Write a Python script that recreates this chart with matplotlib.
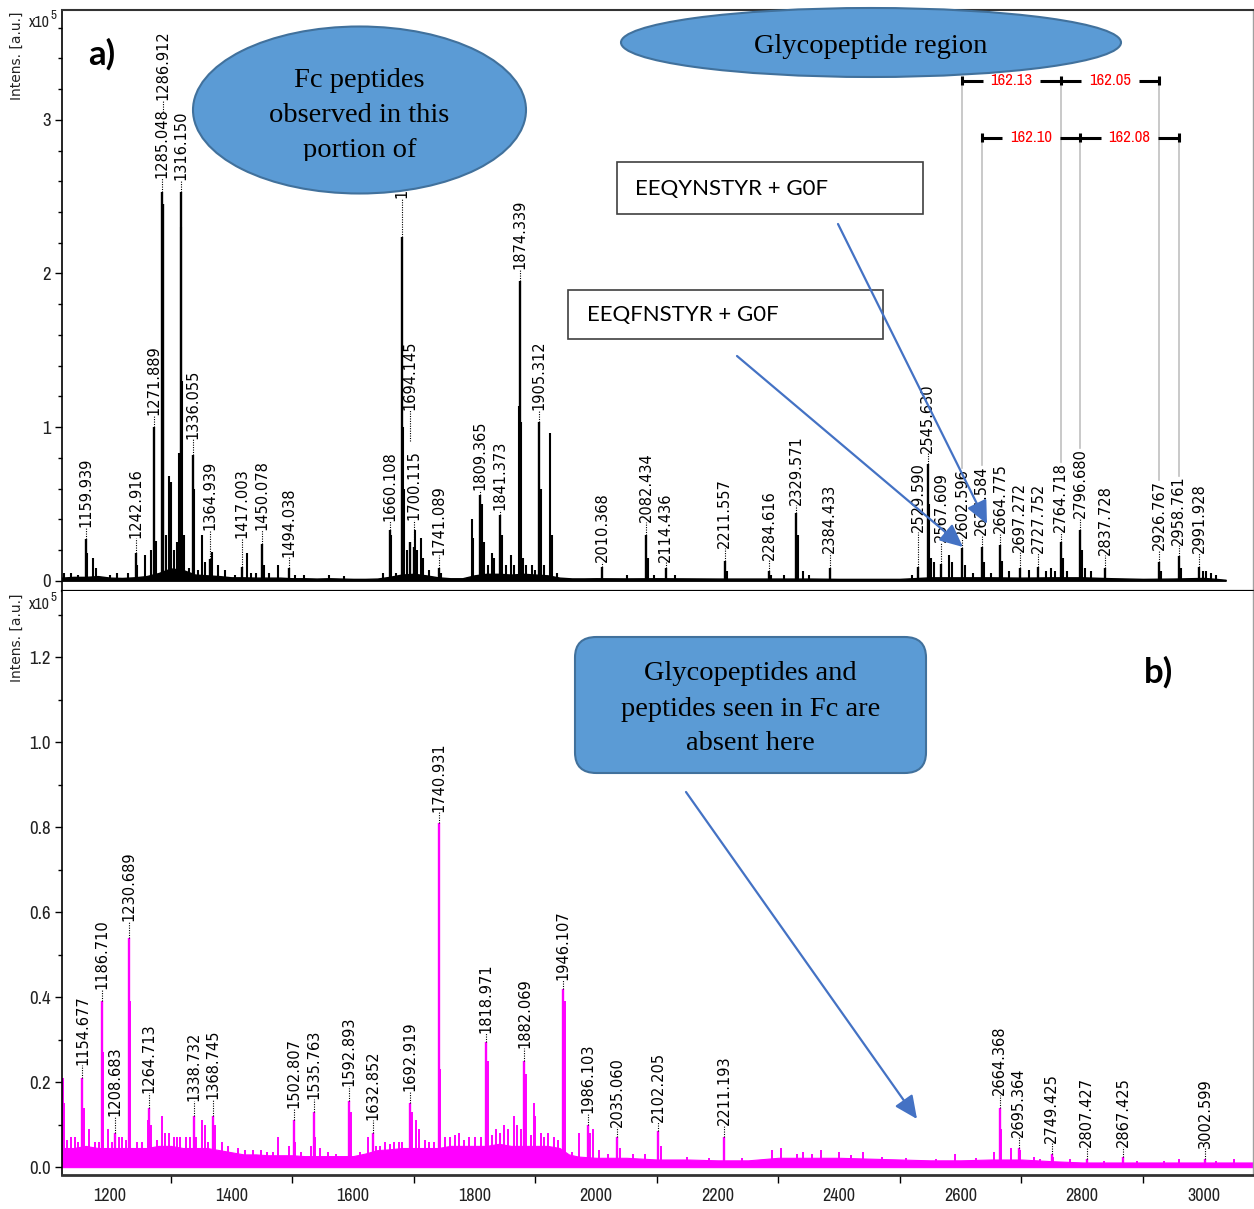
import matplotlib
matplotlib.use("Agg")
import matplotlib.pyplot as plt
from matplotlib.patches import Ellipse, FancyBboxPatch, Rectangle, FancyArrowPatch
from matplotlib.transforms import Bbox, TransformedBbox
from matplotlib.ticker import FixedLocator, MultipleLocator, FormatStrFormatter

# ---------------- data ----------------
lab_a_mz = [1159.939, 1242.916, 1271.889, 1285.048, 1286.912, 1316.150, 1336.055, 1364.939, 1417.003, 1450.078,
            1494.038, 1660.108, 1680.711, 1694.145, 1700.115, 1741.089, 1809.365, 1841.373, 1874.339, 1905.312,
            2010.368, 2082.434, 2114.436, 2211.557, 2284.616, 2329.571, 2384.433, 2529.590, 2545.630, 2567.609,
            2602.596, 2634.584, 2664.775, 2697.272, 2727.752, 2764.718, 2796.680, 2837.728, 2926.767, 2958.761,
            2991.928]
lab_a_int = [0.27, 0.18, 1.00, 2.53, 2.45, 2.53, 0.82, 0.14, 0.09, 0.24,
             0.08, 0.33, 2.24, 0.25, 0.22, 0.08, 0.56, 0.43, 1.95, 1.03,
             0.09, 0.30, 0.08, 0.13, 0.06, 0.44, 0.08, 0.09, 0.76, 0.11,
             0.21, 0.22, 0.23, 0.08, 0.09, 0.25, 0.33, 0.08, 0.12, 0.16,
             0.09]
minor_a_mz = [1125, 1135, 1148, 1162, 1172, 1177, 1200, 1212, 1230, 1245,
              1258, 1268, 1275, 1288, 1292, 1297, 1301, 1305, 1310, 1313,
              1317.5, 1319, 1321, 1330, 1338, 1345, 1352, 1356, 1368, 1378,
              1390, 1405, 1425, 1432, 1440, 1454, 1462, 1477, 1505, 1520,
              1560, 1585, 1650, 1662, 1670, 1682, 1684, 1689, 1702, 1706,
              1711, 1715, 1725, 1745, 1795.5, 1798, 1812, 1815, 1822, 1828,
              1832, 1845, 1851, 1860, 1865, 1873.5, 1876, 1880, 1885, 1894,
              1899, 1910, 1915, 1924, 1927, 1935, 2050, 2086, 2095, 2130,
              2216, 2288, 2310, 2333, 2340, 2350, 2520, 2548, 2551, 2556,
              2580, 2585, 2607, 2620, 2638, 2650, 2668, 2680, 2712, 2740,
              2748, 2755, 2768, 2775, 2800, 2805, 2815, 2930, 2962, 2998,
              3004, 3012, 3020]
minor_a_int = [0.05, 0.05, 0.04, 0.18, 0.15, 0.08, 0.04, 0.05, 0.05, 0.10,
               0.17, 0.20, 0.26, 1.37, 0.30, 0.68, 0.64, 0.20, 0.25, 0.83,
               2.30, 1.30, 0.30, 0.08, 0.60, 0.07, 0.30, 0.12, 0.19, 0.10,
               0.07, 0.04, 0.18, 0.05, 0.05, 0.10, 0.05, 0.10, 0.04, 0.04,
               0.04, 0.03, 0.05, 0.30, 0.05, 1.00, 0.60, 0.20, 0.33, 0.20,
               0.28, 0.15, 0.07, 0.05, 0.40, 0.28, 0.50, 0.25, 0.10, 0.18,
               0.15, 0.30, 0.10, 0.17, 0.10, 1.14, 1.03, 0.15, 0.10, 0.10,
               0.07, 0.60, 0.10, 0.96, 0.30, 0.05, 0.035, 0.15, 0.04, 0.04,
               0.06, 0.04, 0.035, 0.30, 0.06, 0.04, 0.04, 0.50, 0.15, 0.12,
               0.17, 0.12, 0.10, 0.05, 0.12, 0.05, 0.13, 0.06, 0.07, 0.06,
               0.08, 0.06, 0.15, 0.06, 0.20, 0.08, 0.06, 0.06, 0.08, 0.06,
               0.06, 0.05, 0.04]
noise_a_mz = [1121, 1140, 1160, 1180, 1200, 1220, 1240, 1260, 1280, 1300,
              1320, 1340, 1360, 1380, 1400, 1420, 1440, 1460, 1480, 1500,
              1520, 1540, 1560, 1580, 1600, 1620, 1640, 1660, 1680, 1700,
              1720, 1740, 1760, 1780, 1800, 1820, 1840, 1860, 1880, 1900,
              1920, 1940, 1960, 1980, 2000, 2050, 2100, 2150, 2200, 2250,
              2300, 2350, 2400, 2450, 2500, 2550, 2600, 2650, 2700, 2750,
              2800, 2850, 2900, 2950, 3000, 3020, 3036]
noise_a_top = [0.020, 0.025, 0.025, 0.030, 0.020, 0.018, 0.022, 0.030, 0.050, 0.080,
               0.070, 0.040, 0.035, 0.030, 0.022, 0.022, 0.020, 0.020, 0.020, 0.016,
               0.016, 0.014, 0.016, 0.014, 0.012, 0.012, 0.014, 0.025, 0.040, 0.045,
               0.035, 0.022, 0.016, 0.016, 0.035, 0.045, 0.045, 0.040, 0.045, 0.040,
               0.035, 0.020, 0.015, 0.015, 0.016, 0.015, 0.016, 0.015, 0.014, 0.014,
               0.014, 0.014, 0.012, 0.012, 0.012, 0.022, 0.022, 0.022, 0.020, 0.022,
               0.022, 0.016, 0.012, 0.014, 0.018, 0.012, 0.006]

lab_b_mz = [1154.677, 1186.710, 1208.683, 1230.689, 1264.713, 1338.732, 1368.745, 1502.807, 1535.763, 1592.893,
            1632.852, 1692.919, 1740.931, 1818.971, 1882.069, 1946.107, 1986.103, 2035.060, 2102.205, 2211.193,
            2664.368, 2695.364, 2749.425, 2807.427, 2867.425, 3002.599]
lab_b_int = [0.21, 0.39, 0.08, 0.54, 0.14, 0.12, 0.12, 0.11, 0.13, 0.155,
             0.08, 0.15, 0.81, 0.295, 0.25, 0.42, 0.10, 0.07, 0.085, 0.072,
             0.14, 0.045, 0.03, 0.02, 0.025, 0.02]
minor_b_mz = [1122, 1124, 1135, 1142, 1158, 1166, 1176, 1189, 1196, 1214,
              1220, 1233, 1245, 1262, 1268, 1285, 1290, 1297, 1305, 1315,
              1325, 1342, 1352, 1356, 1372, 1385, 1395, 1435, 1477, 1495,
              1505, 1530, 1538, 1545, 1596, 1625, 1645, 1652, 1660, 1668,
              1680, 1697, 1703, 1709, 1725, 1743, 1760, 1775, 1790, 1800,
              1822, 1835, 1848, 1855, 1865, 1870, 1876, 1885, 1897, 1900,
              1910, 1920, 1930, 1949, 1972, 1990, 1995, 2005, 2040, 2060,
              2080, 2106, 2290, 2305, 2340, 2370, 2400, 2440, 2590, 2655,
              2667, 2682, 2698, 2720, 2752, 2780, 2960, 3050,
              1130, 1148, 1182, 1204, 1226, 1252, 1278, 1310, 1332, 1362,
              1410, 1422, 1448, 1458, 1468, 1515, 1558, 1572, 1612, 1638,
              1675, 1718, 1733, 1752, 1768, 1783, 1810, 1828, 1842, 1892,
              1915, 1938, 1960, 2020, 2150, 2185, 2240, 2330, 2355, 2420,
              2470, 2510, 2560, 2625, 2730, 2835, 2890, 2935, 3020]
minor_b_int = [0.21, 0.15, 0.07, 0.07, 0.14, 0.09, 0.06, 0.27, 0.09, 0.07,
               0.07, 0.39, 0.06, 0.11, 0.10, 0.12, 0.08, 0.08, 0.07, 0.07,
               0.07, 0.07, 0.11, 0.10, 0.10, 0.06, 0.05, 0.04, 0.07, 0.05,
               0.06, 0.05, 0.07, 0.045, 0.13, 0.07, 0.05, 0.06, 0.055, 0.06,
               0.06, 0.13, 0.11, 0.09, 0.06, 0.23, 0.07, 0.08, 0.07, 0.07,
               0.25, 0.09, 0.10, 0.09, 0.12, 0.10, 0.09, 0.22, 0.15, 0.12,
               0.08, 0.08, 0.07, 0.39, 0.08, 0.08, 0.09, 0.04, 0.045, 0.03,
               0.03, 0.05, 0.04, 0.045, 0.035, 0.04, 0.035, 0.035, 0.03, 0.035,
               0.09, 0.045, 0.04, 0.025, 0.025, 0.02, 0.02, 0.02,
               0.065, 0.06, 0.06, 0.06, 0.065, 0.06, 0.065, 0.07, 0.07, 0.06,
               0.045, 0.04, 0.04, 0.035, 0.035, 0.035, 0.035, 0.03, 0.035, 0.05,
               0.06, 0.065, 0.06, 0.07, 0.075, 0.065, 0.07, 0.075, 0.08, 0.075,
               0.07, 0.065, 0.035, 0.03, 0.025, 0.022, 0.022, 0.03, 0.03, 0.028,
               0.025, 0.022, 0.02, 0.022, 0.018, 0.015, 0.014, 0.014, 0.014]
noise_b_mz = [1121, 1140, 1160, 1180, 1200, 1220, 1240, 1260, 1280, 1300,
              1320, 1340, 1360, 1380, 1400, 1420, 1440, 1460, 1480, 1500,
              1520, 1540, 1560, 1580, 1600, 1620, 1640, 1660, 1680, 1700,
              1720, 1740, 1760, 1780, 1800, 1820, 1840, 1860, 1880, 1900,
              1920, 1940, 1955, 1970, 2000, 2050, 2100, 2150, 2200, 2250,
              2300, 2350, 2400, 2450, 2500, 2550, 2600, 2650, 2700, 2750,
              2800, 2850, 2900, 2950, 3000, 3040, 3081]
noise_b_top = [0.045, 0.045, 0.05, 0.045, 0.045, 0.045, 0.045, 0.045, 0.05, 0.05,
               0.045, 0.045, 0.045, 0.04, 0.035, 0.03, 0.03, 0.028, 0.028, 0.028,
               0.026, 0.026, 0.026, 0.026, 0.026, 0.032, 0.04, 0.042, 0.045, 0.045,
               0.045, 0.045, 0.05, 0.05, 0.05, 0.05, 0.055, 0.05, 0.05, 0.05,
               0.05, 0.045, 0.03, 0.025, 0.022, 0.022, 0.018, 0.018, 0.016, 0.016,
               0.022, 0.022, 0.022, 0.02, 0.018, 0.016, 0.016, 0.018, 0.018, 0.014,
               0.011, 0.011, 0.011, 0.011, 0.011, 0.011, 0.011]

glyco_row1 = [2602.596, 2764.718, 2926.767]
glyco_row1_txt = ["162.13", "162.05"]
glyco_row2 = [2634.584, 2796.680, 2958.761]
glyco_row2_txt = ["162.10", "162.08"]

x_ticks = [1200, 1400, 1600, 1800, 2000, 2200, 2400, 2600, 2800, 3000]

# ---------------- layout ----------------
W, H = 1254, 1209
def fx(px): return px / W
def fy(py): return 1 - py / H

NARROW = ['Archivo Narrow', 'Liberation Sans', 'DejaVu Sans']
plt.rcParams['font.family'] = NARROW
plt.rcParams['axes.linewidth'] = 1.2

fig = plt.figure(figsize=(W / 100, H / 100), dpi=100)
fig.patch.set_facecolor('white')

axA = fig.add_axes([fx(62), fy(591), fx(1253) - fx(62), fy(10) - fy(591)])
axB = fig.add_axes([fx(62), fy(1175), fx(1253) - fx(62), fy(591) - fy(1175)])

XL = (1121, 3081)
axA.set_xlim(*XL); axB.set_xlim(*XL)
axA.set_ylim(-0.067, 3.715)
axB.set_ylim(-0.0185, 1.356)

lab_a_ytext = [0.35, 0.28, 1.08, 2.62, 3.13, 2.61, 0.92, 0.33, 0.28, 0.33,
               0.155, 0.39, 2.49, 1.11, 0.395, 0.165, 0.59, 0.46, 2.03, 1.11,
               0.12, 0.38, 0.12, 0.21, 0.135, 0.49, 0.18, 0.32, 0.83, 0.25,
               0.28, 0.30, 0.31, 0.19, 0.18, 0.32, 0.41, 0.165, 0.20, 0.23,
               0.18]
leader_stop_a = {1286.912: 3.05, 1694.145: 0.91}
lab_b_ytext = [0.24, 0.42, 0.12, 0.58, 0.175, 0.155, 0.16, 0.14, 0.16, 0.19,
               0.11, 0.18, 0.835, 0.315, 0.28, 0.44, 0.128, 0.095, 0.107, 0.10,
               0.17, 0.07, 0.057, 0.047, 0.047, 0.045]

MAG = '#FF00FF'

# ---------------- spectra ----------------
axA.fill_between(noise_a_mz, 0, noise_a_top, color='black', lw=1.0, zorder=2)
axA.vlines(minor_a_mz, 0, minor_a_int, color='black', lw=1.5, zorder=2)
axA.vlines(lab_a_mz, 0, lab_a_int, color='black', lw=1.7, zorder=2)

axB.fill_between(noise_b_mz, 0, noise_b_top, color=MAG, lw=0.8, zorder=2)
axB.vlines(minor_b_mz, 0, minor_b_int, color=MAG, lw=1.4, zorder=2)
axB.vlines(lab_b_mz, 0, lab_b_int, color=MAG, lw=1.7, zorder=2)

# ---------------- peak labels ----------------
texts_a = {}
for mz, h, yt in zip(lab_a_mz, lab_a_int, lab_a_ytext):
    stop = leader_stop_a.get(mz, h)
    axA.vlines(mz, stop, yt, color='black', lw=0.8, linestyles=(0, (1, 1.2)), zorder=3)
    t = axA.text(mz, yt, f"{mz:.3f}", rotation=90, ha='center', va='bottom',
                 fontsize=10.5, family='DejaVu Sans', color='black', zorder=3)
    texts_a[mz] = t
for mz, h, yt in zip(lab_b_mz, lab_b_int, lab_b_ytext):
    axB.vlines(mz, h, yt, color='black', lw=0.8, linestyles=(0, (1, 1.2)), zorder=3)
    axB.text(mz, yt, f"{mz:.3f}", rotation=90, ha='center', va='bottom',
             fontsize=10.5, family='DejaVu Sans', color='black', zorder=3)

# ---------------- axes styling ----------------
for ax in (axA, axB):
    ax.spines['left'].set_color('black')
    ax.spines['right'].set_color('#A0A0A0')
    ax.spines['right'].set_linewidth(1.0)
    ax.tick_params(axis='y', which='major', direction='out', length=5, width=1, pad=3,
                   labelsize=13.5, labelcolor='#222222')
    ax.tick_params(axis='y', which='minor', direction='out', length=3, width=1)
axA.spines['top'].set_color('#333333'); axA.spines['top'].set_linewidth(1.5)
axA.spines['bottom'].set_color('black'); axA.spines['bottom'].set_linewidth(1.6)
axB.spines['top'].set_visible(False)
axB.spines['bottom'].set_color('#333333'); axB.spines['bottom'].set_linewidth(2.0)

axA.set_yticks([0, 1, 2, 3])
axA.yaxis.set_major_formatter(FormatStrFormatter('%d'))
axA.yaxis.set_minor_locator(MultipleLocator(0.2))
axA.tick_params(axis='x', which='both', bottom=False, labelbottom=False)

axB.set_yticks([0.0, 0.2, 0.4, 0.6, 0.8, 1.0, 1.2])
axB.yaxis.set_major_formatter(FormatStrFormatter('%.1f'))
axB.yaxis.set_minor_locator(MultipleLocator(0.1))
axB.set_xticks(x_ticks)
axB.xaxis.set_minor_locator(FixedLocator([t + 100 for t in x_ticks[:-1]]))
axB.tick_params(axis='x', which='major', length=0, pad=9.5, labelsize=13, labelcolor='#222222')
axB.tick_params(axis='x', which='minor', direction='out', length=6, width=1)

# ---------------- axis captions ----------------
for ytop, ybase in ((12, 27), (594, 609)):
    fig.text(fx(17), fy(ytop), 'Intens. [a.u.]', rotation=90, ha='center', va='top',
             fontsize=10, family='DejaVu Sans', color='#222222')
    fig.text(fx(29), fy(ybase), 'x10', ha='left', va='baseline', fontsize=11.5, color='#222222')
    fig.text(fx(50.5), fy(ybase - 8), '5', ha='left', va='baseline', fontsize=9.5, color='#222222')

fig.text(fx(88), fy(65), 'a)', fontsize=25, fontweight='bold', family='Lato', va='baseline')
fig.text(fx(1144), fy(683), 'b)', fontsize=25, fontweight='bold', family='Lato', va='baseline')

# ---------------- glycoform brackets ----------------
fig.canvas.draw()
rend = fig.canvas.get_renderer()

def bracket_row(mzs, labels, py):
    yv = (3.715 - (-0.067)) * (591 - py) / (591 - 10) - 0.067
    cap = 0.03
    seg = 34.0
    for m in mzs:
        axA.plot([m, m], [yv - cap, yv + cap], color='black', lw=2.2, clip_on=False, zorder=4,
                 solid_capstyle='butt')
        tb = texts_a[m].get_window_extent(rend)
        ytop = axA.transData.inverted().transform((tb.x0, tb.y1))[1]
        axA.plot([m, m], [ytop, yv], color='#C0C0C0', lw=1.2, clip_on=False, zorder=1)
    for (m1, m2), lab in zip(zip(mzs[:-1], mzs[1:]), labels):
        axA.plot([m1, m1 + seg], [yv, yv], color='black', lw=2.2, clip_on=False, zorder=4,
                 solid_capstyle='butt')
        axA.plot([m2 - seg, m2], [yv, yv], color='black', lw=2.2, clip_on=False, zorder=4,
                 solid_capstyle='butt')
        axA.text((m1 + m2) / 2, yv, lab, color='#FF0000', ha='center', va='center',
                 fontsize=12, zorder=4)

bracket_row(glyco_row1, glyco_row1_txt, 80.7)
bracket_row(glyco_row2, glyco_row2_txt, 137.5)

# ---------------- annotations ----------------
BLUE_FILL = '#5B9BD5'
BLUE_EDGE = '#41719C'
ARROW = '#4472C4'
SERIF = ['Liberation Serif', 'DejaVu Serif']

e1 = Ellipse((fx(359.5), fy(110)), fx(333), 167 / H, transform=fig.transFigure,
             facecolor=BLUE_FILL, edgecolor=BLUE_EDGE, lw=1.5, zorder=5)
fig.add_artist(e1)
clipbb = TransformedBbox(Bbox([[fx(193), fy(161)], [fx(526), fy(27)]]), fig.transFigure)
for txt, yb in (('Fc peptides', 87), ('observed in this', 122), ('portion of', 157)):
    t = fig.text(fx(359.5), fy(yb), txt, ha='center', va='baseline', fontsize=20.5,
                 family=SERIF, color='black', zorder=6)
    t.set_clip_box(clipbb)
    t.set_clip_on(True)

e2 = Ellipse((fx(871), fy(42.5)), fx(500), 69 / H, transform=fig.transFigure,
             facecolor=BLUE_FILL, edgecolor=BLUE_EDGE, lw=1.5, zorder=5)
fig.add_artist(e2)
fig.text(fx(871), fy(53), 'Glycopeptide region', ha='center', va='baseline', fontsize=20.5,
         family=SERIF, color='black', zorder=6)

for (x0, y0, x1, y1), txt, tx in (((616.7, 162, 922.7, 214), 'EEQYNSTYR + G0F', 635),
                                  ((568, 290, 883, 339), 'EEQFNSTYR + G0F', 587)):
    r = Rectangle((fx(x0), fy(y1)), fx(x1) - fx(x0), fy(y0) - fy(y1), transform=fig.transFigure,
                  facecolor='white', edgecolor='#404040', lw=1.2, zorder=5)
    fig.add_artist(r)
    fig.text(fx(tx), fy((y0 + y1) / 2 + 7), txt, ha='left', va='baseline', fontsize=16,
             family=['Lato', 'DejaVu Sans'], color='black', zorder=6)

box = FancyBboxPatch((fx(575), fy(773)), fx(926) - fx(575), fy(637) - fy(773),
                     boxstyle='round,pad=0,rounding_size=0.017', transform=fig.transFigure,
                     facecolor=BLUE_FILL, edgecolor=BLUE_EDGE, lw=1.5, zorder=5)
fig.add_artist(box)
for txt, yb in (('Glycopeptides and', 680), ('peptides seen in Fc are', 716.5), ('absent here', 750)):
    fig.text(fx(750.5), fy(yb), txt, ha='center', va='baseline', fontsize=20.5,
             family=SERIF, color='black', zorder=6)

for (sx, sy), (ex, ey) in (((838, 224), (987, 524)),
                           ((737, 356), (963, 547)),
                           ((686, 792), (917, 1119))):
    a = FancyArrowPatch((fx(sx), fy(sy)), (fx(ex), fy(ey)), transform=fig.transFigure,
                        arrowstyle='-|>,head_length=1.4,head_width=0.65', mutation_scale=10,
                        color=ARROW, lw=1.6, zorder=7, shrinkA=0, shrinkB=0)
    fig.add_artist(a)

fig.savefig('out.png', dpi=100, facecolor='white')
